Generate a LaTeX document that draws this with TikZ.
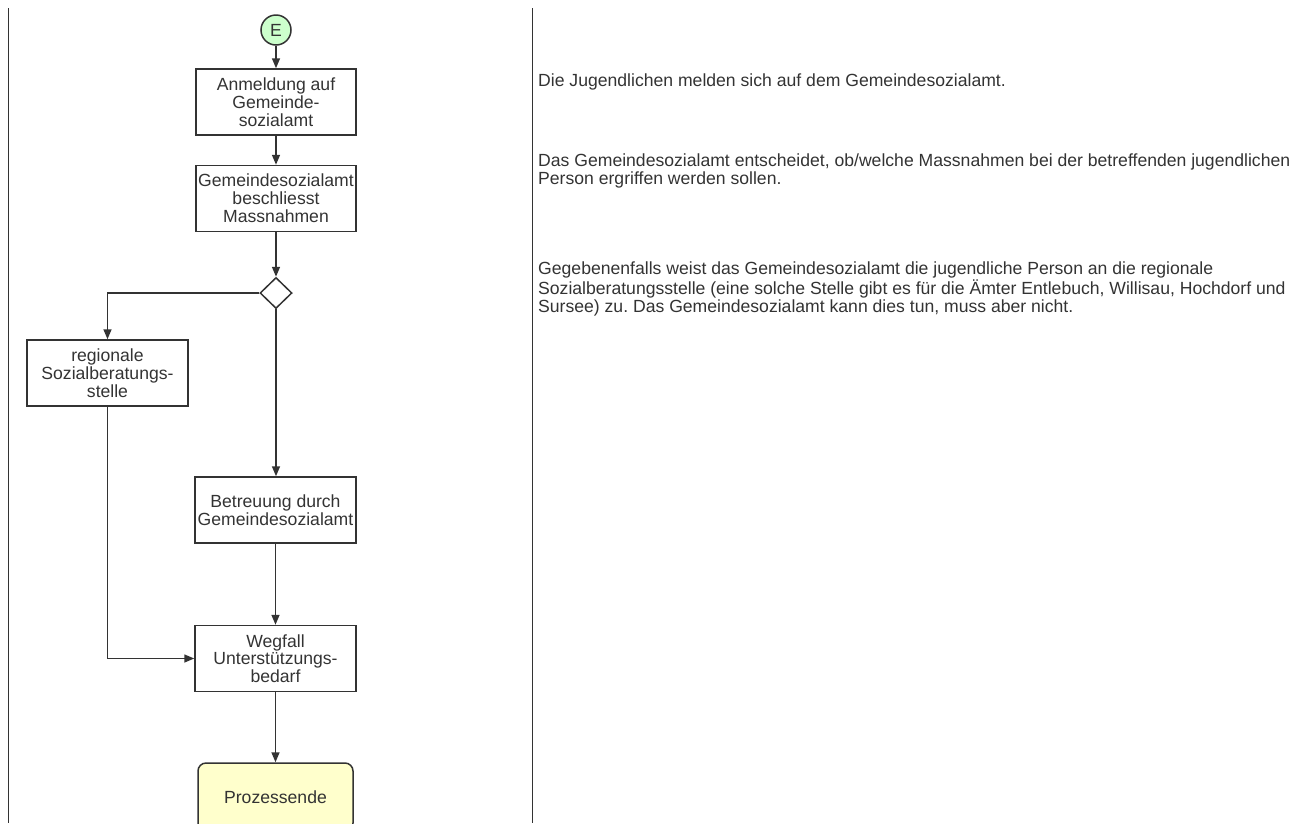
\documentclass[tikz,border=0pt]{standalone}
\usepackage{fontspec}
\setmainfont{Liberation Sans}
\frenchspacing
\usetikzlibrary{arrows.meta,shapes.geometric}
\definecolor{ink}{HTML}{333333}
\definecolor{startgreen}{HTML}{CCFFCC}
\definecolor{endyellow}{HTML}{FFFFCC}
\tikzset{
  every node/.style={text=ink, font=\fontsize{17.6}{17.8}\selectfont},
  procbox/.style={draw=ink, line width=1.5pt, minimum width=160pt, minimum height=66pt, align=center, inner sep=1pt},
  flow/.style={draw=ink, line width=1.5pt, -{Triangle[length=10pt,width=8pt]}},
  lane/.style={draw=ink, line width=1pt},
  note/.style={anchor=west, align=left, inner sep=0pt}
}
\begin{document}
\begin{tikzpicture}[x=1pt,y=-1pt]
\useasboundingbox (0,0) rectangle (1291,823);
% lane separators
\coordinate (l1t) at (8,8);
\coordinate (l1b) at (8,823);
\coordinate (l2t) at (532,8);
\coordinate (l2b) at (532,823);
\draw[lane] (l1t) -- (l1b);
\draw[lane] (l2t) -- (l2b);
% nodes
\node[circle, draw=ink, line width=1.5pt, fill=startgreen, minimum size=30pt, inner sep=0pt] (E) at (276,30) {E};
\node[procbox] (b1) at (276,102) {Anmeldung auf\\Gemeinde-\\sozialamt};
\node[procbox] (b2) at (276,198.5) {Gemeindesozialamt\\beschliesst\\Massnahmen};
\node[diamond, draw=ink, line width=1.5pt, fill=white, minimum width=32pt, minimum height=31pt, inner sep=0pt] (d) at (276,293) {};
\node[procbox, minimum width=161pt] (b3) at (107.5,373) {regionale\\Sozialberatungs-\\stelle};
\node[procbox, minimum width=161pt] (b4) at (275.5,510) {Betreuung durch\\Gemeindesozialamt};
\node[procbox, minimum width=161pt] (b5) at (275.5,658.5) {Wegfall\\Unterstützungs-\\bedarf};
\node[draw=ink, line width=1.5pt, fill=endyellow, rounded corners=8pt, minimum width=155pt, minimum height=68pt] (end) at (275.5,797) {Prozessende};
% connectors
\draw[flow] (E) -- (b1);
\draw[flow] (b1) -- (b2);
\draw[flow] (b2) -- (d);
\draw[flow] (d.west) -| (b3.north);
\draw[flow] (d.south) -- (d.south |- b4.north);
\draw[flow] (b3.south) |- (b5.west);
\draw[flow] (b4) -- (b5);
\draw[flow] (b5) -- (end);
% notes
\node[note] (n1) at (538,82) {Die Jugendlichen melden sich auf dem Gemeindesozialamt.};
\node[note] (n2) at (538,171) {Das Gemeindesozialamt entscheidet, ob/welche Massnahmen bei der betreffenden jugendlichen\\Person ergriffen werden sollen.};
\node[note] (n3) at (538,289) {Gegebenenfalls weist das Gemeindesozialamt die jugendliche Person an die regionale\\Sozialberatungsstelle (eine solche Stelle gibt es für die Ämter Entlebuch, Willisau, Hochdorf und\\Sursee) zu. Das Gemeindesozialamt kann dies tun, muss aber nicht.};
\end{tikzpicture}
\end{document}
